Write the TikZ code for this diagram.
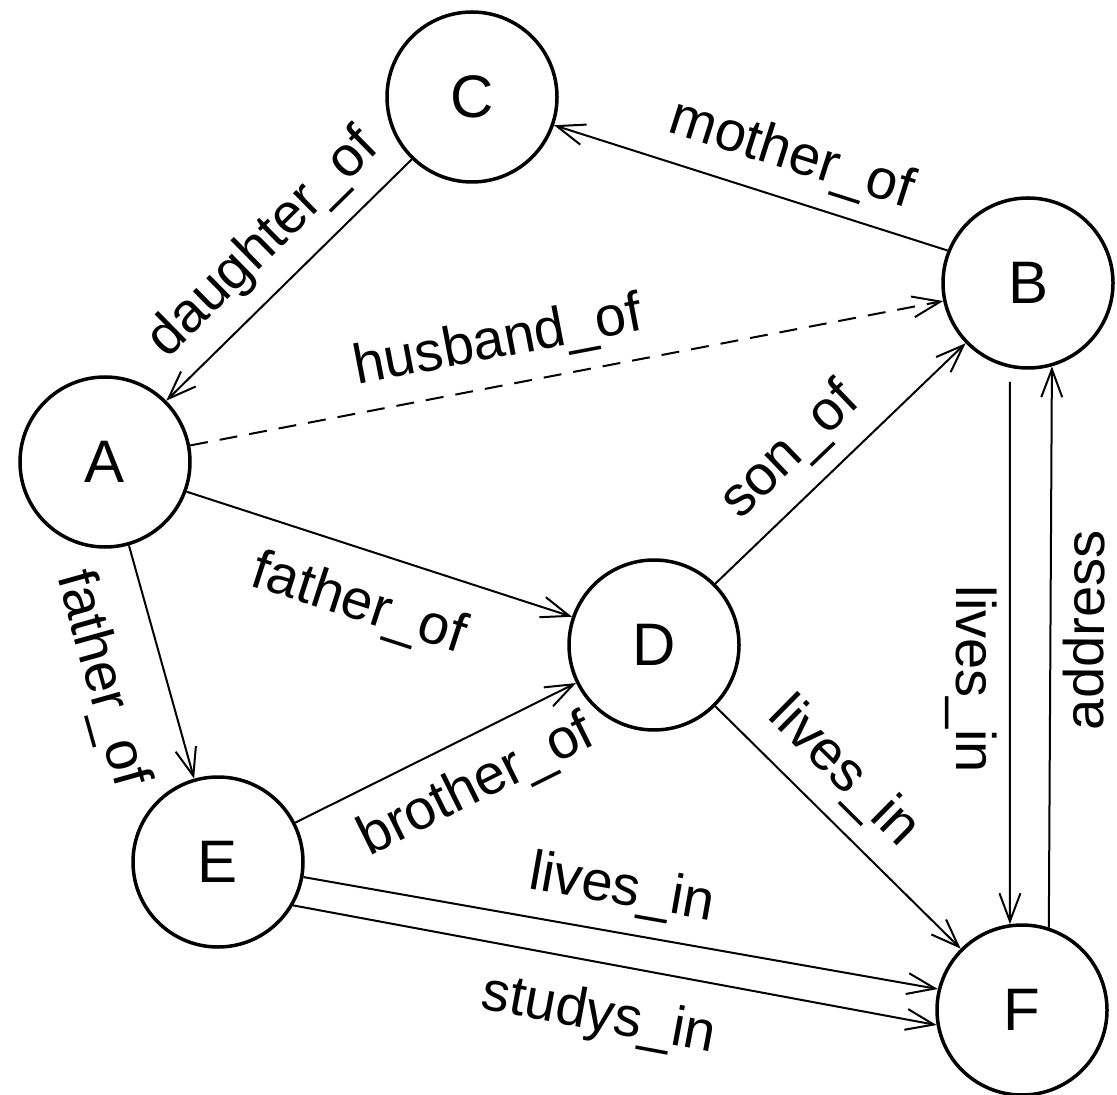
\documentclass[tikz,border=0pt]{standalone}
\usepackage{fontspec}
\setmainfont{Liberation Sans}
\usetikzlibrary{arrows.meta}
\begin{document}
\begin{tikzpicture}[x=0.5pt,y=-0.5pt,
  vertex/.style={circle,draw,line width=1.75pt,minimum size=85pt,inner sep=0pt,font=\fontsize{30}{36}\selectfont},
  rel/.style={line width=1pt,-{Straight Barb[length=14pt,width=10.5pt,line width=1pt]}},
  lbl/.style={sloped,font=\fontsize{28}{34}\selectfont,inner sep=3pt},
  over/.style={lbl,above=5pt},
  under/.style={lbl,below=3pt}]
\useasboundingbox (0,0) rectangle (1117,1095);

% entities
\node[vertex] (A) at (105,462) {A};
\node[vertex] (B) at (1028,283) {B};
\node[vertex] (C) at (472,97) {C};
\node[vertex] (D) at (654,645) {D};
\node[vertex] (E) at (218,862) {E};
\node[vertex] (F) at (1022,1010) {F};

% relations
\draw[rel] (B.158) -- node[over,pos=0.43] {mother\_of} (C.-19);
\draw[rel] (C.226) -- node[over,pos=0.48] {daughter\_of} (A.45);
\draw[rel,dash pattern=on 9pt off 6pt] (A.11) -- node[over,pos=0.42] {husband\_of} (B.192);
\draw[rel] (A.-20) -- node[under,below=8pt,pos=0.49] {father\_of} (D.161);
\draw[rel] (A.-74) -- node[under,below=12pt,pos=0.50] {father\_of} (E.106);
\draw[rel] (D.45) -- node[over,pos=0.42] {son\_of} (B.224);
\draw[rel] (E.27) -- node[under,below=5pt,pos=0.57] {brother\_of} (D.206);
\draw[rel] (D.-45) -- node[over,pos=0.40] {lives\_in} (F.135);
\draw[rel] (E.-10) -- node[over,pos=0.49] {lives\_in} (F.166);
\draw[rel] (E.-30) -- node[under,below=7pt,pos=0.49] {studys\_in} (F.190);
\draw[rel,shorten <=7pt] (B.258) -- node[under,allow upside down,pos=0.56] {lives\_in} (F.98);
\draw[rel] (F.72) -- node[under,pos=0.53] {address} (B.-74);
\end{tikzpicture}
\end{document}
